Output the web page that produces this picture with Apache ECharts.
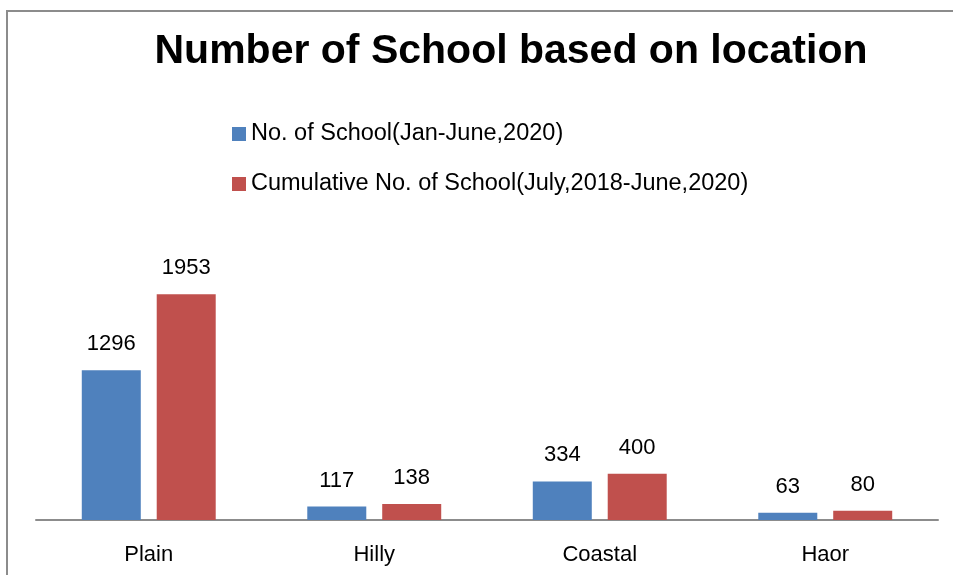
<!DOCTYPE html>
<html>
<head>
<meta charset="utf-8">
<script src="https://cdn.jsdelivr.net/npm/echarts@6/dist/echarts.min.js"></script>
<style>
  html, body { margin: 0; padding: 0; background: #fff; }
  #chart { width: 953px; height: 575px; }
</style>
</head>
<body>
<div id="chart"></div>
<script>
// chart data
const categories = ['Plain', 'Hilly', 'Coastal', 'Haor'];
const seriesNames = ['No. of School(Jan-June,2020)', 'Cumulative No. of School(July,2018-June,2020)'];
const halfYear = [1296, 117, 334, 63];
const cumulative = [1953, 138, 400, 80];

const font = 'Liberation Sans';
const chart = echarts.init(document.getElementById('chart'), null, { renderer: 'canvas' });

const labelStyle = { show: true, position: 'top', distance: 15, fontFamily: font, fontSize: 22, color: '#000' };

chart.setOption({
  animation: false,
  title: {
    text: 'Number of School based on location',
    left: 506,
    textAlign: 'center',
    top: 26,
    textStyle: { fontFamily: font, fontSize: 41, fontWeight: 'bold', color: '#000' }
  },
  legend: {
    orient: 'vertical',
    left: 227,
    top: 117,
    itemWidth: 14,
    itemHeight: 14,
    itemGap: 26,
    icon: 'rect',
    textStyle: { fontFamily: font, fontSize: 23.5, color: '#000' },
    data: seriesNames
  },
  graphic: [{
    type: 'rect',
    shape: { x: 7, y: 11, width: 1000, height: 700 },
    style: { fill: 'none', stroke: '#8c8c8c', lineWidth: 2 },
    silent: true
  }],
  grid: { left: 36, right: 15, top: 231, bottom: 55 },
  xAxis: {
    type: 'category',
    data: categories,
    axisLine: { lineStyle: { color: '#8c8c8c', width: 2 } },
    axisTick: { show: false },
    axisLabel: { fontFamily: font, fontSize: 22, color: '#000', margin: 24 }
  },
  yAxis: {
    type: 'value',
    min: 0,
    max: 2500,
    show: false,
    splitLine: { show: false }
  },
  series: [
    {
      name: seriesNames[0],
      type: 'bar',
      data: halfYear,
      barWidth: 59,
      barGap: '27%',
      itemStyle: { color: '#4F81BD' },
      label: labelStyle
    },
    {
      name: seriesNames[1],
      type: 'bar',
      data: cumulative,
      barWidth: 59,
      itemStyle: { color: '#C0504D' },
      label: labelStyle
    }
  ]
});
</script>
</body>
</html>
